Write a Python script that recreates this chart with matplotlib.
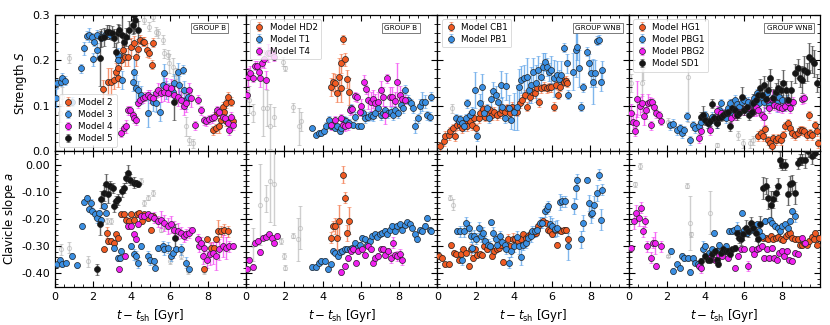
import matplotlib
matplotlib.use("Agg")
import matplotlib.pyplot as plt
import numpy as np

plt.rcParams['axes.unicode_minus'] = False
plt.rcParams['mathtext.fontset'] = 'dejavusans'

ORANGE = '#f05a22'
BLUE = '#3a8fe3'
MAGENTA = '#f020f0'
BLACK = '#151515'
GREY = '#b0b0b0'

# ---- data: (t - t_sh, value, error) ----
# panel 1 (GROUP B): models 2, 3, 4, 5
m2_S = [(2.53,.136,.02),(2.76,.153,.03),(2.93,.153,.03),(3.1,.157,.02),(3.28,.16,.02),(3.19,.175,.02),
        (3.32,.183,.02),(3.46,.2,.02),(3.55,.223,.01),(3.66,.208,.02),(3.84,.207,.02),(3.98,.23,.02),
        (4.12,.239,.015),(4.24,.208,.02),(4.33,.224,.015),(4.47,.245,.01),(4.59,.241,.01),(4.68,.241,.01),
        (4.82,.223,.015),(4.94,.215,.01),(5.11,.239,.01),(5.06,.19,.01),(8.25,.046,.01),(8.43,.05,.01),
        (8.6,.054,.015),(8.78,.098,.01),(8.83,.087,.01),(8.95,.105,.01),(9.04,.12,.01),(9.21,.109,.01),
        (8.5,.083,.01),(8.67,.068,.01),(8.95,.065,.01),(9.3,.065,.01)]
m3_S = [(0.05,.116,.02),(0.14,.149,.01),(0.31,.153,.01),(0.4,.162,.01),(0.52,.155,.01),(0.92,.109,.01),
        (1.36,.182,.01),(1.54,.226,.015),(1.68,.254,.01),(1.8,.256,.015),(1.92,.251,.01),(2.06,.241,.01),
        (2.2,.223,.015),(2.02,.202,.015),(2.23,.256,.01),(2.41,.252,.01),(2.62,.256,.01),(2.9,.256,.01),
        (3.28,.212,.015),(3.32,.2,.015),(3.49,.157,.02),(4.07,.153,.02),(4.15,.175,.03),(4.24,.138,.03),
        (4.33,.135,.02),(4.5,.124,.02),(4.85,.083,.03),(5.11,.109,.02),(5.28,.105,.02),(5.51,.087,.02),
        (5.64,.146,.02),(5.81,.135,.02),(5.99,.136,.015),(6.16,.131,.02),(6.25,.149,.02),(6.42,.175,.02),
        (6.51,.146,.02),(6.68,.179,.01),(6.77,.135,.02),(6.86,.113,.02),(6.95,.12,.015),(5.72,.171,.02)]
m4_S = [(3.46,.04,.01),(3.6,.05,.01),(3.72,.054,.015),(3.81,.09,.01),(3.95,.09,.01),(4.07,.079,.01),
        (4.15,.072,.01),(4.24,.068,.01),(4.33,.105,.01),(4.47,.113,.01),(4.59,.116,.01),(4.71,.12,.01),
        (4.85,.124,.01),(4.99,.12,.015),(5.11,.116,.01),(5.28,.127,.01),(5.41,.135,.015),(5.55,.127,.02),
        (5.69,.131,.02),(5.81,.142,.02),(5.93,.127,.02),(6.07,.138,.02),(6.25,.124,.02),(6.42,.12,.02),
        (6.6,.113,.02),(6.74,.099,.02),(6.86,.105,.02),(7.03,.135,.015),(7.12,.116,.02),(7.33,.057,.01),
        (7.47,.113,.01),(7.64,.09,.01),(7.82,.068,.01),(7.91,.065,.01),(8.08,.07,.01),(8.2,.072,.01),
        (8.34,.076,.01),(8.48,.09,.01),(8.6,.087,.01),(8.78,.076,.01),(8.9,.072,.01),(9.04,.061,.01),
        (9.13,.046,.01),(9.21,.076,.01),(9.3,.057,.01)]
m5_S = [(2.34,.204,.06),(2.41,.249,.02),(2.58,.252,.02),(2.72,.263,.015),(2.84,.263,.015),(2.97,.26,.015),
        (3.1,.249,.02),(3.19,.219,.02),(3.28,.26,.02),(3.37,.267,.01),(3.49,.256,.06),(3.6,.241,.02),
        (3.72,.252,.02),(3.89,.267,.02),(4.07,.278,.02),(4.15,.3,.04),(4.33,.267,.02),(4.19,.289,.02),
        (6.25,.109,.04)]
g1_S = [(0.75,.204,.01),(0.4,.12,.02),(0.28,.083,.02),(2.23,.105,.01),(1.75,.092,.01),(5.11,.296,.01),
        (5.28,.263,.01),(5.38,.26,.01),(5.64,.245,.01),(5.72,.215,.01),(5.9,.212,.01),(5.99,.193,.02),
        (6.16,.186,.02),(6.34,.164,.02),(6.6,.127,.02),(6.86,.054,.02),(7.03,.024,.01),(7.2,.017,.01),
        (4.68,.289,.01),(4.94,.274,.01)]

m2_a = [(2.58,-.312,.01),(2.72,-.251,.02),(2.76,-.281,.01),(2.93,-.281,.01),(3.1,-.287,.01),(3.19,-.257,.01),
        (3.32,-.269,.01),(3.46,-.183,.01),(3.63,-.183,.01),(3.72,-.202,.01),(3.89,-.208,.01),(4.01,-.183,.01),
        (4.15,-.202,.01),(4.29,-.183,.01),(4.42,-.177,.01),(4.54,-.208,.01),(4.68,-.183,.01),(4.85,-.196,.01),
        (5.03,-.239,.01),(5.11,-.19,.01),(7.78,-.383,.01),(7.96,-.275,.01),(8.17,-.306,.02),(8.34,-.306,.01),
        (8.55,-.245,.04),(8.69,-.245,.02),(8.87,-.239,.02),(9.04,-.245,.02),(8.43,-.275,.01)]
m3_a = [(0.14,-.367,.01),(0.28,-.349,.01),(0.4,-.367,.01),(0.58,-.361,.01),(0.92,-.336,.01),(1.15,-.371,.01),
        (1.41,-.226,.01),(1.54,-.138,.01),(1.68,-.122,.01),(1.8,-.165,.01),(1.88,-.141,.015),(1.97,-.171,.01),
        (2.09,-.183,.015),(2.23,-.196,.02),(2.32,-.177,.01),(2.41,-.202,.01),(2.58,-.153,.01),(2.67,-.177,.01),
        (3.1,-.306,.01),(3.32,-.343,.01),(3.42,-.343,.01),(3.46,-.318,.01),(4.01,-.3,.01),(4.15,-.33,.02),
        (4.24,-.336,.02),(4.33,-.361,.02),(4.5,-.3,.01),(4.85,-.336,.02),(4.99,-.349,.02),(5.17,-.355,.01),
        (5.24,-.379,.01),(5.38,-.306,.01),(5.64,-.3,.02),(5.72,-.312,.02),(5.9,-.306,.02),(6.07,-.336,.02),
        (6.16,-.324,.02),(6.34,-.312,.01),(6.6,-.312,.02),(6.86,-.361,.02),(7.03,-.385,.01)]
m4_a = [(3.37,-.385,.01),(3.66,-.336,.01),(3.81,-.226,.01),(3.98,-.226,.01),(4.15,-.257,.01),(4.24,-.275,.01),
        (4.33,-.22,.01),(4.5,-.19,.01),(4.68,-.19,.01),(4.85,-.183,.01),(5.03,-.19,.01),(5.2,-.196,.02),
        (5.38,-.208,.02),(5.55,-.202,.03),(5.72,-.214,.03),(5.9,-.226,.03),(6.07,-.22,.03),(6.25,-.239,.03),
        (6.42,-.245,.03),(6.6,-.251,.02),(6.74,-.263,.02),(6.86,-.257,.02),(7.03,-.251,.02),(7.16,-.239,.01),
        (7.47,-.275,.02),(7.56,-.3,.02),(7.73,-.336,.03),(7.82,-.306,.02),(7.96,-.349,.03),(8.13,-.33,.04),
        (8.26,-.324,.04),(8.43,-.336,.05),(8.6,-.312,.04),(8.78,-.3,.04),(8.95,-.306,.04),(9.13,-.3,.02),
        (9.3,-.3,.01),(7.64,-.287,.02)]
m5_a = [(2.23,-.385,.02),(2.34,-.22,.04),(2.44,-.128,.03),(2.55,-.104,.03),(2.67,-.073,.04),(2.76,-.11,.03),
        (2.9,-.08,.02),(3.02,-.086,.02),(3.1,-.153,.02),(3.19,-.135,.02),(3.32,-.128,.02),(3.49,-.098,.02),
        (3.6,-.086,.02),(3.72,-.049,.02),(3.84,-.031,.03),(3.95,-.055,.02),(4.12,-.067,.02),(4.24,-.067,.01),
        (4.36,-.073,.01),(6.28,-.269,.05)]
g1_a = [(0.31,-.312,.02),(0.75,-.306,.02),(1.75,-.355,.02),(2.72,-.208,.01),(2.93,-.208,.01),(4.5,-.061,.01),
        (4.68,-.141,.01),(4.85,-.122,.01),(5.11,-.104,.01),(5.38,-.208,.01),(5.55,-.239,.01),(5.81,-.226,.01),
        (6.6,-.336,.01),(6.95,-.391,.01),(7.82,-.391,.01),(6.0,-.355,.01)]

# panel 2 (GROUP B): HD2, T1, T4
hd2_S = [(4.45,.142,.02),(4.54,.153,.02),(4.66,.149,.02),(4.76,.127,.02),(4.83,.164,.04),(4.94,.193,.02),
         (5.08,.246,.01),(5.18,.202,.015),(5.29,.158,.02),(5.36,.131,.03),(4.97,.138,.03)]
t1_S = [(3.44,.051,.005),(3.66,.035,.005),(3.79,.039,.005),(3.93,.04,.005),(4.07,.043,.005),(4.19,.054,.01),
        (4.31,.068,.01),(4.42,.054,.005),(4.54,.057,.005),(4.66,.05,.005),(4.76,.055,.005),(4.89,.043,.005),
        (4.97,.05,.005),(5.11,.068,.01),(5.24,.065,.01),(5.36,.061,.01),(5.46,.094,.01),(5.58,.057,.005),
        (5.71,.076,.01),(5.85,.055,.005),(5.99,.054,.005),(6.11,.083,.01),(6.23,.072,.01),(6.37,.076,.01),
        (6.51,.079,.01),(6.63,.077,.01),(6.75,.083,.01),(6.89,.094,.01),(7.03,.079,.01),(7.16,.083,.01),
        (7.28,.09,.01),(7.42,.083,.01),(7.56,.087,.01),(7.68,.079,.01),(7.8,.09,.01),(7.94,.083,.01),
        (8.08,.101,.01),(8.2,.094,.01),(8.32,.135,.01),(8.46,.113,.01),(8.6,.105,.01),(8.73,.094,.01),
        (8.85,.054,.015),(8.99,.072,.01),(9.09,.099,.015),(9.2,.109,.02),(9.34,.109,.015),(9.48,.079,.01),
        (9.62,.076,.01),(9.69,.12,.01)]
t4_S = [(0.05,.124,.01),(0.12,.164,.02),(0.23,.173,.015),(0.35,.162,.01),(0.44,.188,.01),(0.58,.188,.01),
        (0.65,.175,.015),(0.75,.162,.02),(0.84,.195,.01),(0.96,.202,.02),(1.05,.157,.02),(1.13,.217,.02),
        (1.27,.216,.01),(1.4,.217,.01),(1.48,.208,.01),
        (4.45,.057,.01),(4.66,.068,.01),(4.94,.072,.01),(5.06,.057,.01),(5.18,.055,.01),(5.32,.057,.01),
        (5.42,.09,.01),(5.53,.092,.01),(5.67,.121,.01),(5.81,.118,.01),(5.93,.087,.01),(6.02,.099,.015),
        (6.16,.153,.015),(6.27,.136,.01),(6.37,.113,.02),(6.51,.109,.02),(6.63,.114,.02),(6.75,.105,.02),
        (6.89,.109,.02),(7.03,.135,.02),(7.16,.12,.02),(7.28,.079,.02),(7.34,.16,.01),(7.5,.12,.02),
        (7.63,.12,.02),(7.77,.111,.02),(7.87,.153,.04),(8.03,.124,.02),(8.15,.114,.02),(8.29,.113,.01)]
g2_S = [(0.17,.113,.03),(0.35,.083,.02),(0.87,.094,.06),(1.1,.094,.04),(1.27,.054,.05),(1.45,.076,.02),
        (1.92,.197,.01),(2.04,.182,.005),(2.44,.096,.01),(2.79,.054,.04),(2.88,.065,.02),(1.66,.245,.01)]

hd2_a = [(4.42,-.269,.02),(4.54,-.226,.02),(4.66,-.226,.03),(4.76,-.269,.04),(4.83,-.208,.06),(5.06,-.037,.03),
         (5.15,-.122,.02),(5.25,-.251,.03),(5.36,-.206,.05)]
t1_a = [(3.44,-.376,.01),(3.66,-.376,.01),(3.79,-.361,.01),(3.93,-.355,.01),(4.1,-.355,.01),(4.28,-.385,.01),
        (4.42,-.367,.01),(4.54,-.318,.01),(4.66,-.324,.01),(4.8,-.336,.01),(4.9,-.322,.01),(5.01,-.318,.01),
        (5.15,-.312,.01),(5.29,-.312,.01),(5.41,-.309,.01),(5.53,-.306,.01),(5.67,-.287,.01),(5.81,-.306,.01),
        (5.93,-.294,.01),(6.06,-.269,.01),(6.2,-.275,.01),(6.34,-.294,.01),(6.46,-.281,.01),(6.58,-.263,.01),
        (6.72,-.257,.01),(6.86,-.265,.01),(6.98,-.257,.01),(7.1,-.251,.01),(7.24,-.245,.01),(7.38,-.257,.01),
        (7.5,-.239,.01),(7.63,-.226,.01),(7.77,-.245,.01),(7.91,-.226,.01),(8.03,-.22,.01),(8.15,-.239,.01),
        (8.29,-.224,.01),(8.43,-.212,.01),(8.55,-.22,.01),(8.67,-.232,.01),(8.81,-.257,.01),(8.95,-.273,.01),
        (9.08,-.239,.01),(9.2,-.245,.01),(9.34,-.226,.01),(9.48,-.196,.01),(9.6,-.239,.01),(9.69,-.245,.01)]
t4_a = [(0.05,-.383,.01),(0.17,-.349,.01),(0.35,-.376,.01),(0.44,-.287,.01),(0.61,-.281,.01),(0.75,-.322,.01),
        (0.87,-.269,.01),(1.05,-.265,.01),(1.22,-.257,.01),(1.34,-.269,.01),(1.48,-.287,.01),(1.62,-.263,.01),
        (4.94,-.395,.01),(5.15,-.373,.01),(5.32,-.343,.01),(5.46,-.318,.01),(5.58,-.312,.01),(5.76,-.361,.01),
        (5.85,-.318,.01),(6.06,-.312,.01),(6.2,-.334,.01),(6.37,-.3,.01),(6.51,-.312,.01),(6.63,-.361,.01),
        (6.75,-.343,.01),(6.89,-.336,.01),(7.03,-.312,.01),(7.16,-.309,.01),(7.28,-.334,.01),(7.42,-.318,.01),
        (7.56,-.343,.02),(7.66,-.287,.02),(7.77,-.334,.01),(7.91,-.336,.02),(8.03,-.33,.02),(8.15,-.349,.02)]
g2_a = [(0.35,-.294,.06),(0.75,-.147,.15),(1.05,-.126,.05),(1.27,-.061,.15),(1.45,-.073,.15),(1.83,-.281,.01),
        (1.97,-.336,.01),(2.04,-.379,.01),(2.44,-.261,.01),(2.71,-.275,.08),(2.84,-.232,.08)]

# panel 3 (GROUP WNB): CB1, PB1
cb1_S = [(0.16,.01,.01),(0.33,.021,.01),(0.42,.033,.01),(0.59,.035,.01),(0.68,.043,.01),(0.82,.05,.01),
         (0.94,.033,.01),(1.03,.057,.01),(1.17,.057,.01),(1.29,.05,.01),(1.38,.061,.01),(1.55,.054,.01),
         (1.69,.065,.01),(1.82,.057,.01),(1.9,.072,.01),(2.04,.05,.01),(2.16,.072,.01),(2.25,.083,.01),
         (2.39,.092,.01),(2.48,.076,.01),(2.6,.083,.01),(2.74,.09,.01),(2.86,.079,.01),(2.98,.087,.01),
         (3.12,.079,.01),(3.26,.083,.01),(3.39,.09,.01),(3.51,.085,.01),(3.65,.094,.01),(3.79,.083,.01),
         (3.91,.098,.01),(4.03,.09,.01),(4.17,.087,.01),(4.31,.105,.01),(4.43,.113,.01),(4.56,.124,.01),
         (4.69,.098,.01),(4.83,.12,.01),(4.96,.131,.01),(5.08,.127,.01),(5.18,.138,.01),(5.31,.107,.01),
         (5.43,.138,.01),(5.57,.142,.01),(5.71,.138,.01),(5.83,.14,.01),(5.95,.14,.01),(6.09,.098,.01),
         (6.18,.146,.01),(6.3,.124,.01),(6.4,.142,.01),(6.53,.157,.01),(6.61,.153,.01),(6.7,.155,.01),
         (6.79,.151,.01)]
pb1_S = [(0.99,.072,.01),(1.12,.065,.01),(1.2,.07,.01),(1.29,.061,.01),(1.38,.054,.01),(1.47,.072,.01),
         (1.55,.105,.01),(1.69,.079,.01),(1.82,.087,.01),(1.99,.135,.04),(2.08,.032,.01),(2.22,.105,.02),
         (2.34,.14,.03),(2.43,.083,.01),(2.57,.094,.01),(2.69,.072,.01),(2.81,.114,.02),(2.91,.133,.02),
         (3.04,.124,.02),(3.16,.107,.02),(3.3,.146,.03),(3.39,.098,.02),(3.51,.072,.01),(3.61,.143,.03),
         (3.73,.094,.03),(3.86,.068,.02),(3.99,.087,.04),(4.14,.096,.05),(4.26,.14,.04),(4.38,.157,.03),
         (4.52,.16,.03),(4.66,.164,.04),(4.78,.135,.03),(4.87,.146,.04),(5.01,.175,.03),(5.13,.149,.04),
         (5.25,.179,.03),(5.39,.164,.03),(5.5,.186,.03),(5.6,.197,.02),(5.74,.186,.02),(5.85,.175,.02),
         (5.95,.179,.03),(6.09,.16,.04),(6.23,.168,.03),(6.35,.158,.02),(6.47,.168,.03),(6.61,.228,.01),
         (6.75,.193,.02),(6.82,.124,.01),(7.1,.175,.04),(7.23,.223,.06),(7.31,.23,.03),(7.4,.182,.04),
         (7.52,.098,.01),(7.63,.14,.01),(7.84,.219,.01),(7.92,.193,.02),(8.01,.171,.03),(8.15,.153,.05),
         (8.22,.171,.03),(8.32,.243,.01),(8.45,.245,.01),(8.53,.153,.02),(8.62,.179,.02)]
g3_S = [(0.77,.094,.01)]

cb1_a = [(0.07,-.336,.01),(0.24,-.343,.01),(0.42,-.367,.01),(0.59,-.367,.01),(0.72,-.297,.01),(0.86,-.324,.01),
         (0.99,-.33,.01),(1.12,-.349,.01),(1.24,-.33,.02),(1.34,-.312,.01),(1.47,-.324,.01),(1.64,-.373,.01),
         (1.73,-.312,.02),(1.87,-.343,.01),(1.99,-.312,.01),(2.08,-.334,.01),(2.22,-.327,.01),(2.34,-.334,.01),
         (2.46,-.3,.01),(2.6,-.312,.01),(2.74,-.3,.01),(2.86,-.336,.01),(2.95,-.318,.01),(3.09,-.309,.01),
         (3.21,-.306,.01),(3.33,-.294,.01),(3.44,-.358,.01),(3.56,-.3,.01),(3.68,-.275,.02),(3.82,-.3,.01),
         (3.96,-.273,.02),(4.08,-.273,.01),(4.21,-.281,.01),(4.35,-.273,.01),(4.49,-.257,.01),(4.61,-.269,.01),
         (4.73,-.263,.01),(4.87,-.251,.01),(5.01,-.257,.01),(5.13,-.251,.01),(5.25,-.226,.01),(5.39,-.214,.01),
         (5.53,-.208,.01),(5.65,-.214,.01),(5.78,-.239,.01),(5.88,-.245,.01),(6.0,-.257,.01),(6.13,-.239,.01),
         (6.23,-.294,.01),(6.35,-.239,.01),(6.47,-.245,.01),(6.61,-.239,.01),(6.72,-.239,.01),(6.82,-.275,.01)]
pb1_a = [(1.03,-.245,.01),(1.2,-.245,.02),(1.29,-.349,.02),(1.38,-.245,.02),(1.52,-.214,.02),(1.64,-.232,.02),
         (1.73,-.263,.02),(1.82,-.306,.02),(1.9,-.261,.02),(2.04,-.273,.02),(2.16,-.232,.02),(2.29,-.263,.02),
         (2.39,-.251,.02),(2.51,-.281,.02),(2.64,-.294,.02),(2.74,-.3,.02),(2.81,-.212,.01),(2.91,-.251,.02),
         (3.04,-.275,.02),(3.12,-.294,.02),(3.26,-.263,.02),(3.39,-.285,.02),(3.51,-.297,.02),(3.61,-.309,.02),
         (3.73,-.361,.02),(3.86,-.318,.02),(3.99,-.3,.02),(4.14,-.265,.02),(4.26,-.3,.03),(4.35,-.339,.03),
         (4.49,-.294,.02),(4.61,-.287,.02),(4.73,-.269,.02),(4.87,-.263,.02),(4.96,-.245,.02),(5.08,-.245,.02),
         (5.22,-.239,.02),(5.36,-.214,.02),(5.48,-.214,.02),(5.6,-.171,.02),(5.71,-.163,.02),(5.78,-.153,.02),
         (5.88,-.22,.03),(6.0,-.226,.03),(6.13,-.236,.03),(6.27,-.232,.03),(6.4,-.138,.03),(6.53,-.135,.02),
         (6.65,-.135,.02),(6.82,-.3,.05),(7.14,-.153,.03),(7.23,-.086,.04),(7.31,-.055,.02),(7.49,-.275,.03),
         (7.63,-.214,.03),(7.84,-.055,.01),(7.92,-.141,.03),(8.01,-.183,.03),(8.1,-.177,.02),(8.18,-.147,.03),
         (8.32,-.104,.03),(8.45,-.037,.02),(8.53,-.202,.04),(8.62,-.092,.02)]
g3_a = [(0.65,-.122,.01),(0.82,-.147,.02)]

# panel 4 (GROUP WNB): HG1, PBG1, PBG2, SD1
hg1_S = [(6.77,.033,.01),(6.91,.039,.01),(7.03,.032,.01),(7.12,.048,.01),(7.26,.024,.01),(7.38,.017,.01),
         (7.47,.01,.01),(7.56,.028,.01),(7.68,.024,.01),(7.82,.028,.01),(7.96,.024,.01),(8.08,.035,.01),
         (8.17,.054,.01),(8.31,.061,.01),(8.43,.05,.01),(8.55,.039,.01),(8.69,.035,.01),(8.83,.04,.01),
         (8.95,.046,.01),(9.08,.046,.01),(9.18,.043,.01),(9.3,.035,.01),(9.42,.079,.01),(9.48,.039,.01),
         (9.6,.035,.01),(9.74,.057,.01),(9.83,.043,.01),(9.91,.017,.01)]
pbg1_S = [(2.15,.057,.01),(2.32,.06,.01),(2.5,.046,.01),(2.67,.05,.01),(2.76,.039,.01),(2.9,.046,.01),
          (3.07,.077,.01),(3.19,.024,.01),(3.37,.057,.01),(3.49,.05,.01),(3.66,.054,.01),(3.8,.063,.01),
          (3.98,.079,.01),(4.12,.061,.01),(4.24,.068,.01),(4.33,.076,.01),(4.47,.072,.01),(4.59,.061,.01),
          (4.71,.09,.01),(4.82,.105,.01),(4.94,.083,.01),(5.06,.072,.01),(5.17,.094,.01),(5.29,.105,.01),
          (5.41,.079,.01),(5.55,.113,.01),(5.64,.104,.01),(5.76,.098,.01),(5.9,.109,.01),(6.04,.113,.01),
          (6.16,.094,.01),(6.25,.109,.01),(6.42,.105,.01),(6.56,.116,.01),(6.68,.127,.01),(6.81,.105,.01),
          (6.95,.12,.01),(7.09,.109,.02),(7.21,.127,.01),(7.33,.105,.01),(7.47,.113,.01),(7.61,.12,.01),
          (7.73,.105,.02),(7.85,.12,.01),(7.99,.113,.01),(8.13,.098,.01),(8.25,.113,.01),(8.43,.105,.01)]
pbg2_S = [(0.1,.083,.02),(0.23,.063,.02),(0.31,.043,.01),(0.4,.061,.02),(0.45,.114,.04),(0.58,.099,.02),
          (0.7,.105,.02),(0.8,.077,.02),(0.92,.09,.02),(1.01,.105,.02),(1.1,.109,.01),(1.22,.107,.01),
          (1.33,.098,.01),(1.19,.057,.01),(1.45,.083,.01),(1.57,.079,.01),(1.68,.067,.01),(3.66,.028,.01),
          (3.77,.043,.01),(4.24,.046,.01),(4.59,.089,.01),(4.82,.083,.01),(5.11,.083,.01),(5.34,.072,.01),
          (5.55,.079,.01),(5.76,.087,.01),(6.04,.09,.01),(6.25,.094,.02),(6.51,.087,.01),(6.63,.098,.02),
          (6.77,.09,.01),(6.98,.079,.01),(7.09,.076,.02),(7.21,.113,.01),(7.33,.094,.01),(7.47,.114,.02),
          (7.61,.101,.01),(7.73,.099,.01),(7.85,.096,.01),(7.99,.094,.01),(8.17,.099,.01),(8.34,.109,.01),
          (8.43,.094,.01),(8.6,.109,.01),(9.04,.114,.01),(9.18,.116,.01)]
sd1_S = [(3.77,.076,.01),(3.89,.079,.02),(3.98,.068,.01),(4.12,.061,.01),(4.24,.065,.01),(4.36,.104,.01),
         (4.47,.072,.01),(4.59,.061,.01),(4.68,.072,.01),(4.82,.076,.01),(4.94,.079,.01),(5.06,.083,.01),
         (5.17,.087,.01),(5.29,.054,.01),(5.41,.094,.02),(5.55,.09,.01),(5.64,.079,.01),(5.76,.083,.01),
         (5.9,.12,.02),(6.04,.09,.01),(6.16,.098,.01),(6.28,.079,.01),(6.42,.087,.01),(6.51,.105,.02),
         (6.63,.113,.01),(6.74,.124,.01),(6.86,.138,.02),(6.95,.124,.02),(7.09,.146,.02),(7.16,.114,.02),
         (7.3,.135,.02),(7.4,.16,.02),(7.56,.116,.02),(7.68,.131,.02),(7.82,.138,.02),(7.96,.135,.02),
         (8.08,.149,.03),(8.2,.135,.02),(8.31,.113,.02),(8.48,.135,.02),(8.69,.171,.02),(8.83,.182,.02),
         (8.95,.16,.02),(9.08,.157,.03),(9.18,.179,.03),(9.3,.175,.02),(9.42,.208,.03),(9.56,.201,.03),
         (9.7,.193,.03),(9.83,.149,.02)]
g4_S = [(0.14,.149,.02),(0.75,.186,.03),(0.7,.151,.03),(3.1,.164,.1),(2.06,.063,.01),(4.59,.013,.005),
        (5.99,.017,.01),(6.33,.017,.01),(6.51,.024,.01),(5.72,.035,.01)]

hg1_a = [(7.03,-.269,.01),(7.16,-.269,.01),(7.3,-.273,.01),(7.43,-.263,.01),(7.56,-.275,.01),(7.68,-.269,.01),
         (7.82,-.265,.01),(7.96,-.273,.01),(8.08,-.278,.01),(8.2,-.263,.01),(8.31,-.257,.01),(8.43,-.251,.01),
         (8.55,-.269,.01),(8.69,-.273,.01),(8.83,-.275,.01),(8.95,-.294,.01),(9.08,-.297,.01),(9.18,-.287,.01),
         (9.3,-.294,.01),(9.42,-.281,.01),(9.56,-.265,.01),(9.7,-.273,.01),(9.83,-.294,.01),(9.95,-.269,.01),
         (9.74,-.251,.01)]
pbg1_a = [(2.32,-.391,.01),(2.23,-.318,.01),(2.5,-.367,.01),(2.67,-.379,.01),(2.76,-.336,.01),(2.9,-.343,.01),
          (3.1,-.343,.01),(3.19,-.395,.01),(3.37,-.343,.01),(3.46,-.361,.01),(3.6,-.367,.01),(3.72,-.373,.01),
          (3.89,-.312,.03),(4.01,-.3,.01),(4.19,-.324,.01),(4.33,-.312,.01),(4.47,-.251,.01),(4.59,-.318,.01),
          (4.71,-.294,.01),(4.85,-.324,.01),(4.99,-.309,.01),(5.11,-.3,.01),(5.24,-.245,.01),(5.38,-.245,.01),
          (5.52,-.239,.01),(5.64,-.232,.02),(5.76,-.251,.01),(5.9,-.177,.01),(6.04,-.239,.01),(6.16,-.251,.01),
          (6.28,-.245,.01),(6.42,-.22,.01),(6.56,-.239,.01),(6.68,-.22,.01),(6.81,-.245,.02),(6.95,-.261,.01),
          (7.12,-.208,.01),(7.38,-.202,.01),(7.5,-.214,.01),(7.64,-.226,.01),(7.78,-.232,.01),(7.91,-.245,.01),
          (8.03,-.226,.01),(8.17,-.22,.01),(8.31,-.232,.01),(8.43,-.208,.01),(8.55,-.171,.01),(8.69,-.19,.02)]
pbg2_a = [(0.1,-.306,.01),(0.28,-.208,.03),(0.4,-.177,.03),(0.52,-.196,.03),(0.66,-.159,.02),(0.75,-.245,.02),
          (0.84,-.208,.02),(0.98,-.3,.02),(1.15,-.343,.02),(1.27,-.287,.02),(1.36,-.287,.04),(1.45,-.373,.01),
          (1.68,-.3,.02),(3.66,-.373,.01),(3.8,-.379,.02),(4.24,-.343,.01),(4.5,-.349,.01),(4.71,-.334,.01),
          (4.85,-.336,.01),(5.2,-.343,.01),(5.55,-.379,.01),(5.72,-.336,.01),(5.86,-.312,.01),(6.04,-.309,.01),
          (6.25,-.373,.02),(6.42,-.312,.01),(6.56,-.33,.01),(6.68,-.312,.01),(6.81,-.306,.01),(6.95,-.3,.01),
          (7.09,-.343,.01),(7.21,-.312,.01),(7.33,-.343,.01),(7.47,-.306,.01),(7.61,-.343,.01),(7.73,-.349,.01),
          (7.85,-.324,.01),(7.99,-.318,.01),(8.13,-.336,.01),(8.26,-.318,.01),(8.38,-.349,.01),(8.52,-.355,.01),
          (8.69,-.324,.01),(8.87,-.33,.01),(9.04,-.269,.01),(9.21,-.287,.01)]
sd1_a = [(3.8,-.355,.01),(3.98,-.336,.01),(4.12,-.349,.01),(4.24,-.349,.01),(4.36,-.33,.01),(4.5,-.318,.01),
         (4.59,-.349,.01),(4.68,-.367,.01),(4.82,-.324,.01),(4.94,-.312,.01),(5.06,-.318,.01),(5.17,-.318,.01),
         (5.29,-.33,.01),(5.41,-.312,.01),(5.55,-.306,.01),(5.64,-.251,.02),(5.76,-.269,.02),(5.86,-.275,.02),
         (5.99,-.257,.02),(6.11,-.232,.03),(6.25,-.245,.02),(6.39,-.214,.02),(6.51,-.232,.02),(6.63,-.251,.03),
         (6.77,-.275,.03),(6.86,-.22,.03),(7.03,-.086,.04),(7.16,-.08,.03),(7.3,-.122,.04),(7.43,-.147,.05),
         (7.56,-.128,.03),(7.68,-.104,.03),(7.78,-.08,.03),(7.91,.018,.03),(8.03,.0,.02),(8.17,.0,.02),
         (8.31,-.11,.04),(8.43,-.073,.03),(8.55,-.067,.03),(8.69,-.104,.04),(8.83,.004,.02),(8.95,.018,.02),
         (9.08,.018,.02),(9.21,.016,.03),(9.39,.049,.02),(9.56,.031,.03),(9.74,.043,.02)]
g4_a = [(0.58,-.006,.01),(0.35,-.073,.01),(2.06,-.336,.005),(3.07,-.077,.01),(3.19,-.214,.1),(3.28,-.257,.01),
        (4.24,-.177,.08),(4.68,-.355,.01),(6.42,-.239,.01),(6.63,-.226,.01)]

panels = [
    dict(group='GROUP B', gx=0.81, grey=(g1_S, g1_a), loc='lower left',
         series=[('Model 2', ORANGE, m2_S, m2_a), ('Model 3', BLUE, m3_S, m3_a),
                 ('Model 4', MAGENTA, m4_S, m4_a), ('Model 5', BLACK, m5_S, m5_a)]),
    dict(group='GROUP B', gx=0.81, grey=(g2_S, g2_a), loc='upper left',
         series=[('Model HD2', ORANGE, hd2_S, hd2_a), ('Model T1', BLUE, t1_S, t1_a),
                 ('Model T4', MAGENTA, t4_S, t4_a)]),
    dict(group='GROUP WNB', gx=0.84, grey=(g3_S, g3_a), loc='upper left',
         series=[('Model CB1', ORANGE, cb1_S, cb1_a), ('Model PB1', BLUE, pb1_S, pb1_a)]),
    dict(group='GROUP WNB', gx=0.84, grey=(g4_S, g4_a), loc='upper left',
         series=[('Model HG1', ORANGE, hg1_S, hg1_a), ('Model PBG1', BLUE, pbg1_S, pbg1_a),
                 ('Model PBG2', MAGENTA, pbg2_S, pbg2_a), ('Model SD1', BLACK, sd1_S, sd1_a)]),
]


def draw(ax, pts, color, label=None, grey=False):
    d = np.array(pts)
    if grey:
        ax.errorbar(d[:, 0], d[:, 1], yerr=d[:, 2], fmt='o', ms=3, mfc='none', mec=GREY,
                    mew=0.7, ecolor=GREY, elinewidth=1.0, capsize=1.2, alpha=0.6, zorder=1)
        return
    eb = ax.errorbar(d[:, 0], d[:, 1], yerr=d[:, 2], fmt='o', ms=4.3, mfc=color, mec='#222222',
                     mew=0.5, ecolor=color, elinewidth=1.0, capsize=1.2, label=label, zorder=3)
    # lighter error bars, solid markers
    for c in eb[1]:
        c.set_alpha(0.65)
    for c in eb[2]:
        c.set_alpha(0.65)


fig, axes = plt.subplots(2, 4, figsize=(8.3, 3.25), dpi=100, sharex=True)
fig.subplots_adjust(left=0.066, right=0.988, top=0.954, bottom=0.117, wspace=0, hspace=0)

for j, p in enumerate(panels):
    axt, axb = axes[0, j], axes[1, j]
    draw(axt, p['grey'][0], GREY, grey=True)
    draw(axb, p['grey'][1], GREY, grey=True)
    for name, col, sv, av in p['series']:
        draw(axt, sv, col, label=name)
        draw(axb, av, col)
    axt.set_ylim(0, 0.3)
    axb.set_ylim(-0.45, 0.05)
    axt.set_yticks([0.0, 0.1, 0.2, 0.3])
    axb.set_yticks([-0.4, -0.3, -0.2, -0.1, 0.0])
    axt.yaxis.set_major_formatter(plt.FormatStrFormatter('%.1f'))
    axb.yaxis.set_major_formatter(plt.FormatStrFormatter('%.2f'))
    leg = axt.legend(loc=p['loc'], fontsize=6.3, frameon=True, handletextpad=0.6,
                     borderpad=0.4, labelspacing=0.35, handlelength=1.2, fancybox=True)
    leg.get_frame().set_linewidth(0.6)
    axt.text(p['gx'], 0.905, p['group'], transform=axt.transAxes, fontsize=5.2, ha='center',
             va='center', bbox=dict(boxstyle='square,pad=0.3', fc='white', ec='#666666', lw=0.6))
    for ax in (axt, axb):
        ax.set_xlim(0, 10)
        ax.set_xticks([0, 2, 4, 6, 8])
        ax.minorticks_on()
        ax.tick_params(which='both', direction='in', top=True, right=True, labelsize=8)
        ax.tick_params(which='major', length=4, width=0.8)
        ax.tick_params(which='minor', length=2, width=0.6)
        for s in ax.spines.values():
            s.set_linewidth(0.9)
        if j > 0:
            ax.tick_params(labelleft=False)
    axb.set_xlabel(r'$t - t_{\rm sh}$ [Gyr]', fontsize=8.5)

axes[0, 0].set_ylabel(r'Strength $S$', fontsize=8.5, labelpad=2)
axes[1, 0].set_ylabel(r'Clavicle slope $a$', fontsize=8.5, labelpad=2)

fig.savefig('out.png', dpi=100)
